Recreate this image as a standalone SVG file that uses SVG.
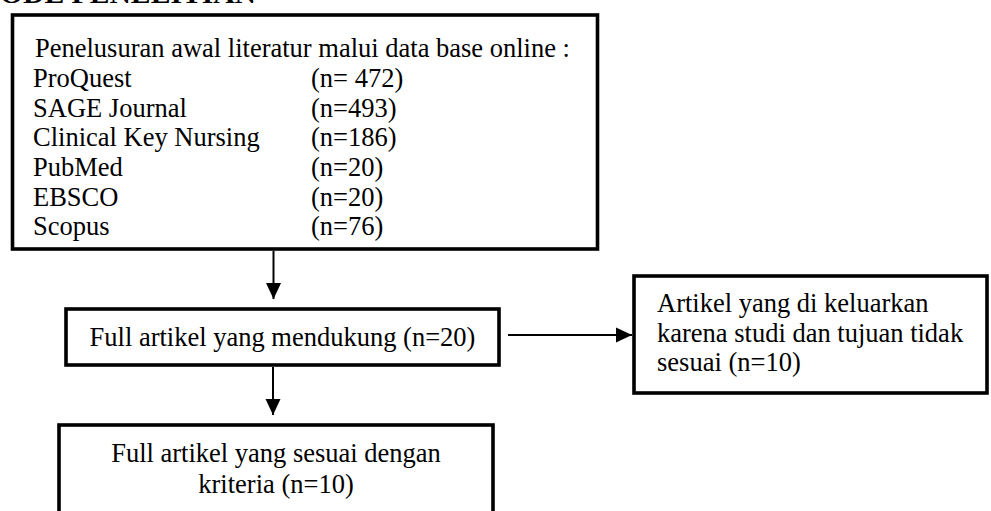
<svg xmlns="http://www.w3.org/2000/svg" width="991" height="511" viewBox="0 0 991 511">
<defs>
<style>
.box{fill:#fff;stroke:#000;stroke-width:3.6}
.t{font-family:"Liberation Serif","Times New Roman",serif;font-size:26.5px;fill:#000}
.c{text-anchor:middle}
.conn{stroke:#000;stroke-width:2;fill:none}
.head{font-family:"Liberation Serif","Times New Roman",serif;font-size:28px;font-weight:bold;fill:#000}
</style>
<marker id="ah" markerWidth="16" markerHeight="16" viewBox="0 0 16 16" refX="16" refY="8" orient="auto" markerUnits="userSpaceOnUse">
<path d="M0,0.5 L16,8 L0,15.5 Z" fill="#000"/>
</marker>
</defs>
<rect width="991" height="511" fill="#fff"/>
<text class="head" x="0" y="3" textLength="256" lengthAdjust="spacingAndGlyphs">ODE PENELITIAN</text>

<g id="connectors">
<line class="conn" x1="273.5" y1="251" x2="273.5" y2="299" marker-end="url(#ah)"/>
<line class="conn" x1="273" y1="367" x2="273" y2="415" marker-end="url(#ah)"/>
<line class="conn" x1="508" y1="335" x2="632" y2="335" marker-end="url(#ah)"/>
</g>

<g id="n1">
<rect class="box" x="12.5" y="15" width="585" height="234"/>
<text class="t" x="35" y="57">Penelusuran awal literatur malui data base online :</text>
<text class="t" x="33" y="87">ProQuest</text><text class="t" x="311" y="87">(n= 472)</text>
<text class="t" x="33" y="116.5">SAGE Journal</text><text class="t" x="311" y="116.5">(n=493)</text>
<text class="t" x="33" y="146">Clinical Key Nursing</text><text class="t" x="311" y="146">(n=186)</text>
<text class="t" x="33" y="176">PubMed</text><text class="t" x="311" y="176">(n=20)</text>
<text class="t" x="33" y="205.5">EBSCO</text><text class="t" x="311" y="205.5">(n=20)</text>
<text class="t" x="33" y="235">Scopus</text><text class="t" x="311" y="235">(n=76)</text>
</g>

<g id="n2">
<rect class="box" x="66" y="309" width="433" height="56"/>
<text class="t c" x="282.5" y="346">Full artikel yang mendukung (n=20)</text>
</g>

<g id="n3">
<rect class="box" x="634" y="276" width="353" height="117"/>
<text class="t" x="657" y="312">Artikel yang di keluarkan</text>
<text class="t" x="657" y="341.5">karena studi dan tujuan tidak</text>
<text class="t" x="657" y="371">sesuai (n=10)</text>
</g>

<g id="n4">
<rect class="box" x="59" y="425" width="434" height="100"/>
<text class="t c" x="276" y="462">Full artikel yang sesuai dengan</text>
<text class="t c" x="276" y="493">kriteria (n=10)</text>
</g>
</svg>
